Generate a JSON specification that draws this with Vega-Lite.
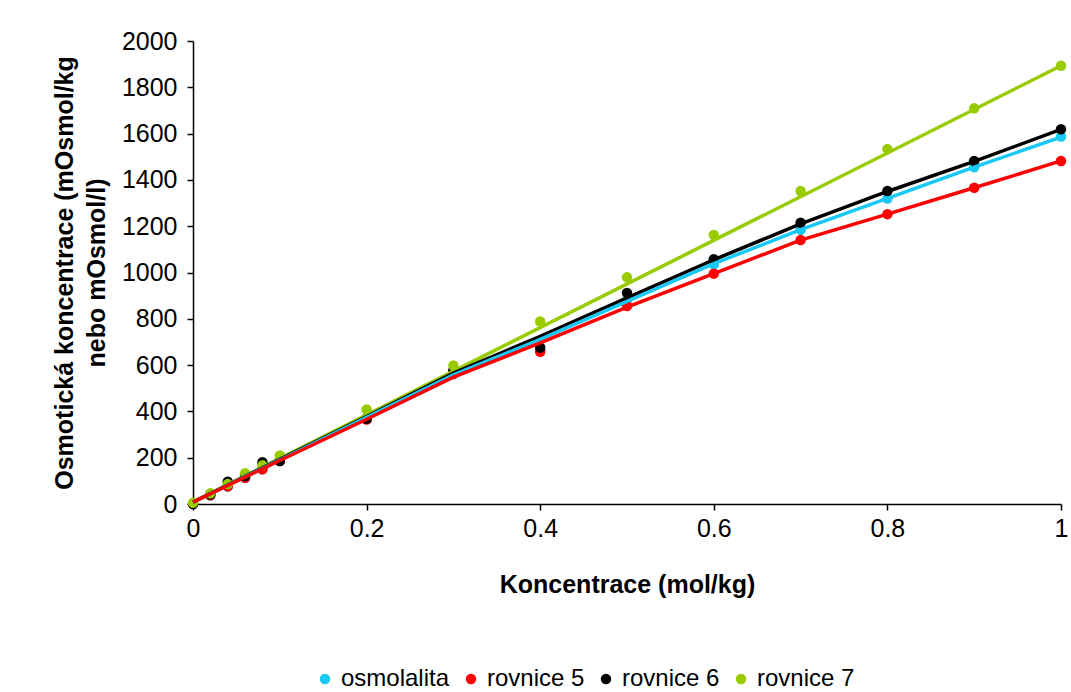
{
  "$schema": "https://vega.github.io/schema/vega-lite/v6.json",
  "autosize": "none",
  "width": 868,
  "height": 463,
  "padding": {"left": 193, "top": 41, "right": 10, "bottom": 188},
  "background": "white",
  "config": {
    "view": {"stroke": null},
    "font": "Liberation Sans",
    "axis": {
      "domainColor": "black", "domainWidth": 1.5, "tickColor": "black", "tickWidth": 1.5, "tickSize": 6,
      "labelFont": "Liberation Sans", "labelFontSize": 25, "labelColor": "black", "labelFlush": false,
      "titleFont": "Liberation Sans", "titleFontSize": 25, "titleFontWeight": "bold", "titleColor": "black",
      "grid": false
    }
  },
  "datasets": {
    "points": [
      {"c": 0, "v": 0, "s": "osmolalita"}, {"c": 0.02, "v": 37, "s": "osmolalita"}, {"c": 0.04, "v": 75, "s": "osmolalita"}, {"c": 0.06, "v": 112, "s": "osmolalita"}, {"c": 0.08, "v": 150, "s": "osmolalita"}, {"c": 0.1, "v": 187, "s": "osmolalita"}, {"c": 0.2, "v": 372, "s": "osmolalita"}, {"c": 0.3, "v": 560, "s": "osmolalita"}, {"c": 0.4, "v": 668, "s": "osmolalita"}, {"c": 0.5, "v": 880, "s": "osmolalita"}, {"c": 0.6, "v": 1035, "s": "osmolalita"}, {"c": 0.7, "v": 1185, "s": "osmolalita"}, {"c": 0.8, "v": 1320, "s": "osmolalita"}, {"c": 0.9, "v": 1455, "s": "osmolalita"}, {"c": 1.0, "v": 1587, "s": "osmolalita"},
      {"c": 0, "v": 0, "s": "rovnice 5"}, {"c": 0.02, "v": 38, "s": "rovnice 5"}, {"c": 0.04, "v": 76, "s": "rovnice 5"}, {"c": 0.06, "v": 113, "s": "rovnice 5"}, {"c": 0.08, "v": 150, "s": "rovnice 5"}, {"c": 0.1, "v": 186, "s": "rovnice 5"}, {"c": 0.2, "v": 365, "s": "rovnice 5"}, {"c": 0.3, "v": 562, "s": "rovnice 5"}, {"c": 0.4, "v": 658, "s": "rovnice 5"}, {"c": 0.5, "v": 855, "s": "rovnice 5"}, {"c": 0.6, "v": 995, "s": "rovnice 5"}, {"c": 0.7, "v": 1140, "s": "rovnice 5"}, {"c": 0.8, "v": 1252, "s": "rovnice 5"}, {"c": 0.9, "v": 1366, "s": "rovnice 5"}, {"c": 1.0, "v": 1482, "s": "rovnice 5"},
      {"c": 0, "v": 0, "s": "rovnice 6"}, {"c": 0.02, "v": 42, "s": "rovnice 6"}, {"c": 0.04, "v": 96, "s": "rovnice 6"}, {"c": 0.06, "v": 121, "s": "rovnice 6"}, {"c": 0.08, "v": 180, "s": "rovnice 6"}, {"c": 0.1, "v": 186, "s": "rovnice 6"}, {"c": 0.2, "v": 368, "s": "rovnice 6"}, {"c": 0.3, "v": 578, "s": "rovnice 6"}, {"c": 0.4, "v": 676, "s": "rovnice 6"}, {"c": 0.5, "v": 912, "s": "rovnice 6"}, {"c": 0.6, "v": 1057, "s": "rovnice 6"}, {"c": 0.7, "v": 1215, "s": "rovnice 6"}, {"c": 0.8, "v": 1352, "s": "rovnice 6"}, {"c": 0.9, "v": 1482, "s": "rovnice 6"}, {"c": 1.0, "v": 1619, "s": "rovnice 6"},
      {"c": 0, "v": 5, "s": "rovnice 7"}, {"c": 0.02, "v": 46, "s": "rovnice 7"}, {"c": 0.04, "v": 86, "s": "rovnice 7"}, {"c": 0.06, "v": 133, "s": "rovnice 7"}, {"c": 0.08, "v": 167, "s": "rovnice 7"}, {"c": 0.1, "v": 210, "s": "rovnice 7"}, {"c": 0.2, "v": 408, "s": "rovnice 7"}, {"c": 0.3, "v": 598, "s": "rovnice 7"}, {"c": 0.4, "v": 788, "s": "rovnice 7"}, {"c": 0.5, "v": 979, "s": "rovnice 7"}, {"c": 0.6, "v": 1162, "s": "rovnice 7"}, {"c": 0.7, "v": 1352, "s": "rovnice 7"}, {"c": 0.8, "v": 1533, "s": "rovnice 7"}, {"c": 0.9, "v": 1709, "s": "rovnice 7"}, {"c": 1.0, "v": 1893, "s": "rovnice 7"}
    ],
    "lines": [
      {"c": 0, "v": 8, "s": "rovnice 7"}, {"c": 1.0, "v": 1893, "s": "rovnice 7"},
      {"c": 0, "v": 8, "s": "rovnice 6"}, {"c": 0.1, "v": 193, "s": "rovnice 6"}, {"c": 0.2, "v": 378, "s": "rovnice 6"}, {"c": 0.3, "v": 566, "s": "rovnice 6"}, {"c": 0.4, "v": 724, "s": "rovnice 6"}, {"c": 0.5, "v": 890, "s": "rovnice 6"}, {"c": 0.6, "v": 1055, "s": "rovnice 6"}, {"c": 0.7, "v": 1210, "s": "rovnice 6"}, {"c": 0.8, "v": 1350, "s": "rovnice 6"}, {"c": 0.9, "v": 1480, "s": "rovnice 6"}, {"c": 1.0, "v": 1618, "s": "rovnice 6"},
      {"c": 0, "v": 8, "s": "osmolalita"}, {"c": 0.1, "v": 190, "s": "osmolalita"}, {"c": 0.2, "v": 374, "s": "osmolalita"}, {"c": 0.3, "v": 558, "s": "osmolalita"}, {"c": 0.4, "v": 711, "s": "osmolalita"}, {"c": 0.5, "v": 875, "s": "osmolalita"}, {"c": 0.6, "v": 1038, "s": "osmolalita"}, {"c": 0.7, "v": 1185, "s": "osmolalita"}, {"c": 0.8, "v": 1320, "s": "osmolalita"}, {"c": 0.9, "v": 1455, "s": "osmolalita"}, {"c": 1.0, "v": 1585, "s": "osmolalita"},
      {"c": 0, "v": 8, "s": "rovnice 5"}, {"c": 0.1, "v": 188, "s": "rovnice 5"}, {"c": 0.2, "v": 366, "s": "rovnice 5"}, {"c": 0.3, "v": 548, "s": "rovnice 5"}, {"c": 0.4, "v": 696, "s": "rovnice 5"}, {"c": 0.5, "v": 850, "s": "rovnice 5"}, {"c": 0.6, "v": 995, "s": "rovnice 5"}, {"c": 0.7, "v": 1140, "s": "rovnice 5"}, {"c": 0.8, "v": 1252, "s": "rovnice 5"}, {"c": 0.9, "v": 1366, "s": "rovnice 5"}, {"c": 1.0, "v": 1482, "s": "rovnice 5"}
    ]
  },
  "layer": [
    {
      "data": {"name": "points"},
      "mark": {"type": "point", "filled": true, "opacity": 1, "size": 110, "shape": "circle"},
      "encoding": {
        "x": {"field": "c", "type": "quantitative", "scale": {"domain": [0, 1], "nice": false},
          "axis": {"values": [0, 0.2, 0.4, 0.6, 0.8, 1], "format": "~g", "title": "Koncentrace (mol/kg)", "labelPadding": 6, "titlePadding": 31}},
        "y": {"field": "v", "type": "quantitative", "scale": {"domain": [0, 2000], "nice": false},
          "axis": {"values": [0, 200, 400, 600, 800, 1000, 1200, 1400, 1600, 1800, 2000], "format": "d", "title": ["Osmotická koncentrace (mOsmol/kg", "nebo mOsmol/l)"], "titleLineHeight": 32, "labelPadding": 10, "titlePadding": 12}},
        "color": {"field": "s", "type": "nominal",
          "scale": {"domain": ["osmolalita", "rovnice 5", "rovnice 6", "rovnice 7"], "range": ["#19C8F5", "#FF0000", "#000000", "#99CC00"]},
          "legend": {"title": null, "orient": "none", "legendX": 120, "legendY": 626, "direction": "horizontal",
            "symbolType": "circle", "symbolSize": 80, "labelFontSize": 24, "labelFont": "Liberation Sans", "labelColor": "black", "columnPadding": 9, "labelOffset": 4}}
      }
    },
    {
      "data": {"name": "lines"},
      "mark": {"type": "line", "strokeWidth": 3.5},
      "encoding": {
        "x": {"field": "c", "type": "quantitative"},
        "y": {"field": "v", "type": "quantitative"},
        "color": {"field": "s", "type": "nominal", "legend": null},
        "order": {"field": "c"}
      }
    }
  ]
}
